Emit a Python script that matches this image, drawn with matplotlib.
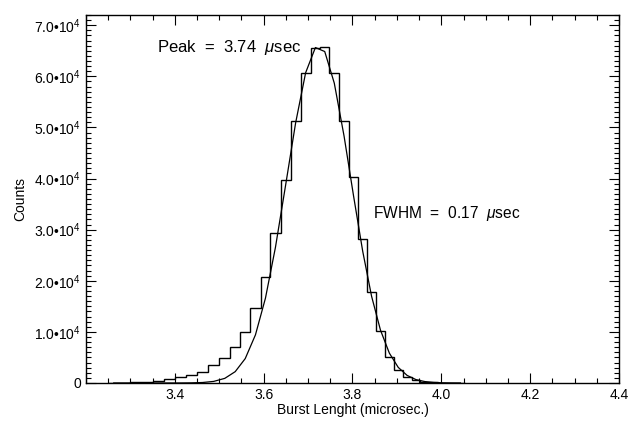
import numpy as np
import matplotlib.pyplot as plt
from matplotlib.ticker import MultipleLocator, FuncFormatter

plt.rcParams['font.family'] = ['Liberation Sans', 'DejaVu Sans']
plt.rcParams['mathtext.fontset'] = 'custom'
plt.rcParams['mathtext.rm'] = 'Liberation Sans'
plt.rcParams['mathtext.it'] = 'Liberation Sans:italic'

# histogram bin edges (microsec) and counts
edges = [3.25, 3.275, 3.30, 3.325, 3.35, 3.375, 3.40, 3.425, 3.45, 3.475,
         3.50, 3.525, 3.547, 3.570, 3.593, 3.615, 3.638, 3.661, 3.683, 3.706,
         3.727, 3.748, 3.770, 3.792, 3.813, 3.833, 3.853, 3.873, 3.893, 3.913,
         3.933, 3.953, 3.973, 3.993, 4.013, 4.033, 4.053]
counts = [50, 90, 150, 260, 450, 720, 1115, 1565, 2210, 3520,
          4830, 7100, 10040, 14620, 20690, 29410, 39730, 51330, 60720, 65600,
          65800, 60720, 51330, 40370, 28120, 17870, 10240, 5030, 2540, 1230,
          590, 250, 100, 40, 20, 10]

# gaussian fit curve, sampled at bin centres
fit_x = [3.2625, 3.2875, 3.3125, 3.3375, 3.3625, 3.3875, 3.4125, 3.4375, 3.4625, 3.4875,
         3.5125, 3.536, 3.5585, 3.5815, 3.604, 3.6265, 3.6495, 3.672, 3.6945, 3.7165,
         3.7375, 3.759, 3.781, 3.8025, 3.823, 3.843, 3.863, 3.883, 3.903, 3.923,
         3.943, 3.963, 3.983, 4.003, 4.023, 4.043]
fit_y = [0, 0, 0, 0, 0, 1, 6, 26, 93, 309,
         904, 2220, 4770, 9410, 16580, 26520, 38740, 50900, 60700, 65630,
         64850, 58670, 48320, 36540, 25770, 16960, 10340, 5840, 3050, 1480,
         660, 276, 105, 38, 12, 3]

peak_txt = r'Peak  =  3.74  $\mathit{\mu}$sec'
fwhm_txt = r'FWHM  =  0.17  $\mathit{\mu}$sec'

fig = plt.figure(figsize=(6.29, 4.21), dpi=100)
ax = fig.add_axes([0.1367, 0.0903, 0.8474, 0.8741])

ax.stairs(counts, edges, baseline=None, color='black', lw=1.0)
ax.plot(fit_x, fit_y, color='black', lw=0.9)

ax.set_xlim(3.2, 4.4)
ax.set_ylim(0, 72000)

ax.xaxis.set_major_locator(MultipleLocator(0.2))
ax.xaxis.set_minor_locator(MultipleLocator(0.05))
ax.yaxis.set_major_locator(MultipleLocator(10000))
ax.yaxis.set_minor_locator(MultipleLocator(1000))

def yfmt(v, pos):
    if v == 0:
        return '0'
    return '%.1f\u2022$10^4$' % (v / 1e4)

def xfmt(v, pos):
    if v < 3.3:
        return ''
    return '%.1f' % v

ax.yaxis.set_major_formatter(FuncFormatter(yfmt))
ax.xaxis.set_major_formatter(FuncFormatter(xfmt))

ax.tick_params(which='both', direction='in', top=True, right=True, labelsize=10, width=0.8)
ax.tick_params(which='major', length=7)
ax.tick_params(which='minor', length=3.5)
for s in ax.spines.values():
    s.set_linewidth(1.0)

ax.set_xlabel('Burst Lenght (microsec.)', fontsize=10, labelpad=1)
ax.set_ylabel('Counts', fontsize=10, labelpad=5)

ax.text(3.359, 65600, peak_txt, fontsize=12, ha='left', va='center')
ax.text(3.846, 33070, fwhm_txt, fontsize=11.2, ha='left', va='center')

plt.savefig('out.png', dpi=100)
